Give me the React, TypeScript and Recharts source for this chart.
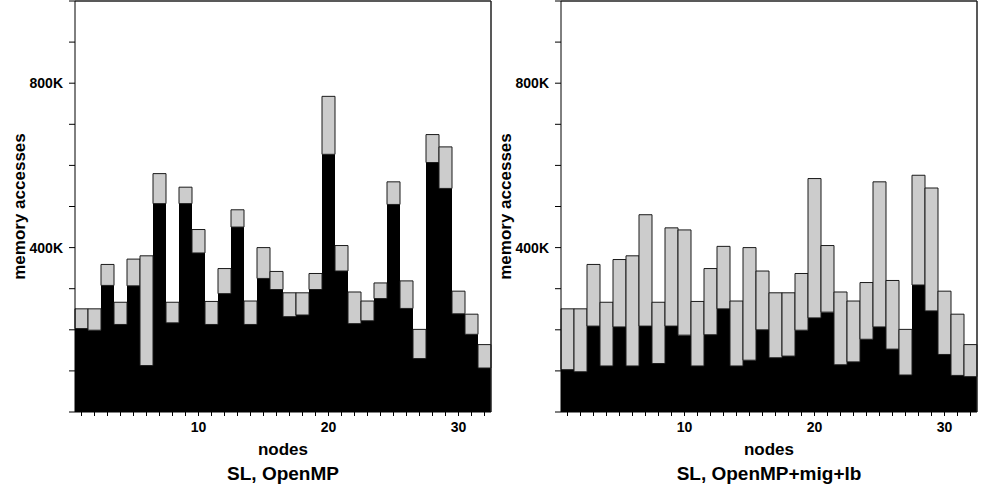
import { BarChart, Bar, XAxis, YAxis, ReferenceLine } from "recharts"

// node ids on the x axis
const nodes = [
  1, 2, 3, 4, 5, 6, 7, 8, 9, 10, 11, 12, 13, 14, 15, 16,
  17, 18, 19, 20, 21, 22, 23, 24, 25, 26, 27, 28, 29, 30, 31, 32,
]

// values in thousands of accesses
const openmpTotal = [
  251, 251, 359, 267, 372, 380, 580, 267, 547, 444, 269, 349, 492, 270, 400, 342,
  290, 290, 337, 768, 405, 292, 270, 314, 560, 319, 201, 675, 645, 294, 238, 164,
]
const openmpLocal = [
  203, 199, 308, 213, 307, 113, 507, 217, 507, 387, 213, 288, 450, 213, 325, 298,
  232, 236, 298, 627, 343, 215, 222, 276, 505, 252, 130, 607, 544, 239, 189, 107,
]
const migTotal = [
  251, 251, 359, 267, 371, 380, 480, 267, 448, 443, 269, 349, 403, 270, 400, 343,
  290, 290, 337, 568, 405, 292, 270, 315, 560, 320, 201, 576, 545, 294, 238, 164,
]
const migLocal = [
  103, 98, 209, 112, 207, 112, 209, 118, 209, 187, 112, 188, 251, 112, 126, 200,
  132, 136, 199, 229, 243, 115, 122, 177, 207, 153, 90, 309, 246, 140, 89, 86,
]

const yTicks = [0, 100000, 200000, 300000, 400000, 500000, 600000, 700000, 800000, 900000, 1000000]
const yLabels: Record<number, string> = { 400000: "400K", 800000: "800K" }

const font = "'Liberation Sans', Arial, Helvetica, sans-serif"

function buildRows(total: number[], local: number[]) {
  return nodes.map((n, i) => ({
    node: n,
    local: local[i] * 1000,
    remote: (total[i] - local[i]) * 1000,
  }))
}

function Panel({ title, total, local }: { title: string; total: number[]; local: number[] }) {
  const data = buildRows(total, local)
  return (
    <BarChart
      width={495}
      height={486}
      data={data}
      margin={{ top: 1, right: 4, bottom: 0, left: 0 }}
      barCategoryGap={0}
      barGap={0}
    >
      <XAxis
        dataKey="node"
        interval={0}
        height={74}
        tickSize={4}
        tickMargin={6}
        stroke="#000"
        tickFormatter={(v: number) => (v % 10 === 0 ? String(v) : "")}
        tick={{ fill: "#000", fontSize: 14, fontWeight: "bold", fontFamily: font }}
        label={{
          content: () => (
            <g>
              <text x={283} y={455} textAnchor="middle" fontSize={17} fontWeight="bold" fontFamily={font} fill="#000">
                nodes
              </text>
              <text x={283} y={480} textAnchor="middle" fontSize={19} fontWeight="bold" fontFamily={font} fill="#000">
                {title}
              </text>
            </g>
          ),
        }}
      />
      <YAxis
        domain={[0, 1000000]}
        ticks={yTicks}
        interval={0}
        width={75}
        tickSize={6}
        tickMargin={6}
        stroke="#000"
        tickFormatter={(v: number) => yLabels[v] || ""}
        tick={{ fill: "#000", fontSize: 14, fontWeight: "bold", fontFamily: font }}
        label={{
          value: "memory accesses",
          angle: -90,
          position: "insideLeft",
          offset: 19,
          textAnchor: "middle",
          style: { fontSize: 17, fontWeight: "bold", fontFamily: font, fill: "#000" },
        }}
      />
      <Bar dataKey="local" stackId="a" fill="#000" isAnimationActive={false} />
      <Bar dataKey="remote" stackId="a" fill="#cccccc" stroke="#1a1a1a" strokeWidth={1} isAnimationActive={false} />
      {/* frame: top and right edges */}
      <ReferenceLine y={1000000} stroke="#222" strokeWidth={1.5} />
      <ReferenceLine x={32} position="end" stroke="#222" strokeWidth={1.5} />
    </BarChart>
  )
}

export default function App() {
  return (
    <div style={{ position: "absolute", left: 0, top: 0, width: 981, height: 486, background: "#fff" }}>
      <div style={{ position: "absolute", left: 0, top: 0 }}>
        <Panel title="SL, OpenMP" total={openmpTotal} local={openmpLocal} />
      </div>
      <div style={{ position: "absolute", left: 486, top: 0 }}>
        <Panel title="SL, OpenMP+mig+lb" total={migTotal} local={migLocal} />
      </div>
    </div>
  )
}
